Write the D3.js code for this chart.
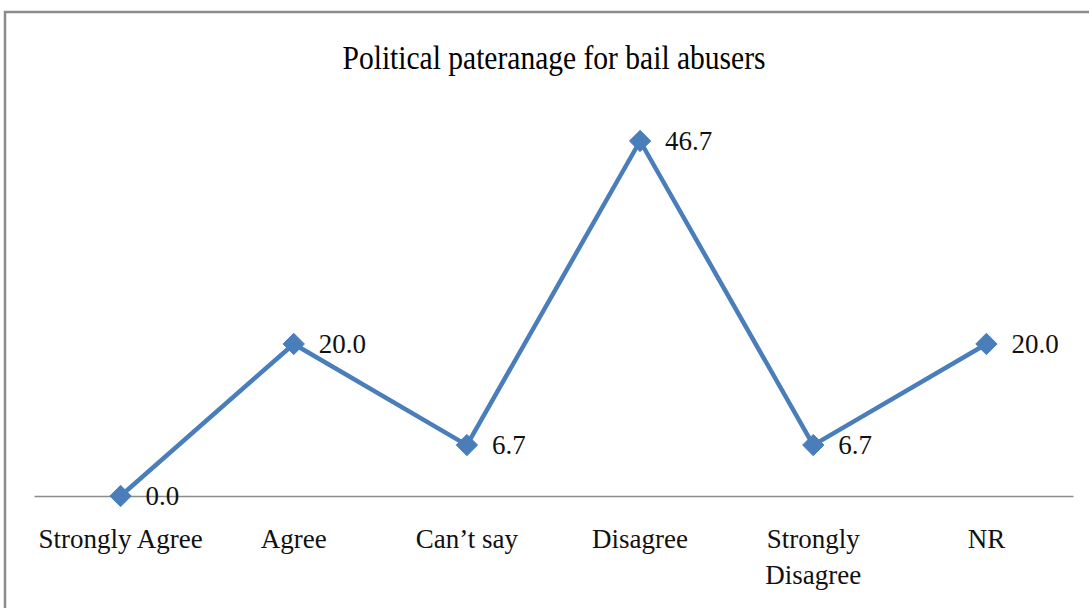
<!DOCTYPE html>
<html><head><meta charset="utf-8">
<script src="https://cdn.jsdelivr.net/npm/d3@7"></script>
<style>body{margin:0;background:#fff}svg{display:block}</style>
</head><body>
<script>
const categories = ["Strongly Agree","Agree","Can\u2019t say","Disagree","Strongly Disagree","NR"];
const values = [0.0, 20.0, 6.7, 46.7, 6.7, 20.0];
const title = "Political pateranage for bail abusers";

const W = 1089, H = 608;
const svg = d3.select("body").append("svg").attr("width", W).attr("height", H);

// outer chart border
svg.append("path").attr("d", `M5,${H+5} L5,12 L${W+5},12`)
  .attr("fill","none").attr("stroke","#8c8c8c").attr("stroke-width",2.5);

const x = d3.scaleBand().domain(categories).range([34, 1073]);
const y = d3.scaleLinear().domain([0, 46.7]).range([496, 141]);

svg.append("text").attr("x", 554).attr("y", 69).attr("text-anchor","middle")
  .attr("font-family","Liberation Serif").attr("font-size",33)
  .attr("textLength",423).attr("lengthAdjust","spacingAndGlyphs")
  .text(title);

// axis
const axis = d3.axisBottom(x).tickSize(0).tickFormat("");
const gA = svg.append("g").attr("transform","translate(0,496)").call(axis);
gA.select(".domain").attr("stroke","#8c8c8c").attr("stroke-width",1.5);

// category labels
const labelFont = "Liberation Serif";
categories.forEach(c => {
  const cx = x(c) + x.bandwidth()/2;
  const t = svg.append("text").attr("text-anchor","middle")
    .attr("font-family",labelFont).attr("font-size",27).attr("fill","#111");
  if (c === "Strongly Disagree") {
    t.append("tspan").attr("x",cx).attr("y",548).text("Strongly");
    t.append("tspan").attr("x",cx).attr("y",584).text("Disagree");
  } else {
    t.attr("x",cx).attr("y",548).text(c);
  }
});

const cxOf = c => x(c) + x.bandwidth()/2;
const line = d3.line().x((d,i)=>cxOf(categories[i])).y(d=>y(d));
svg.append("path").datum(values).attr("d",line)
  .attr("fill","none").attr("stroke","#4a7ebb").attr("stroke-width",4.5)
  .attr("stroke-linejoin","round");

svg.selectAll(".mk").data(values).enter().append("path")
  .attr("d", d3.symbol().type(d3.symbolDiamond2).size(290))
  .attr("transform",(d,i)=>`translate(${cxOf(categories[i])},${y(d)})`)
  .attr("fill","#4a7ebb").attr("stroke","#4a7ebb").attr("stroke-width",1);

svg.selectAll(".lb").data(values).enter().append("text")
  .attr("x",(d,i)=>cxOf(categories[i]) + 25)
  .attr("y",d=>y(d)+9)
  .attr("font-family",labelFont).attr("font-size",27).attr("fill","#111")
  .text(d=>d.toFixed(1));
</script>
</body></html>
